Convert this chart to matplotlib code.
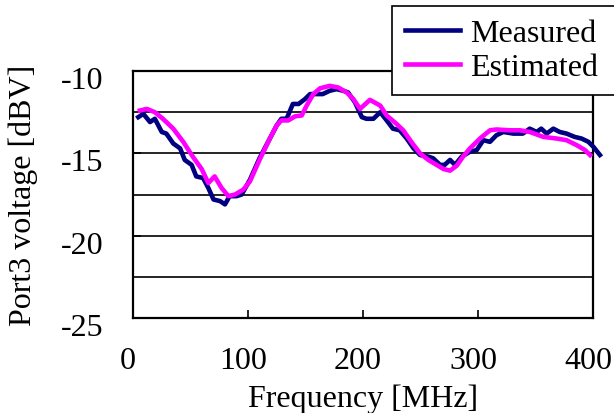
import matplotlib
matplotlib.use('Agg')
import matplotlib.pyplot as plt
from matplotlib.transforms import ScaledTranslation

plt.rcParams['font.family'] = ['Liberation Serif', 'DejaVu Serif']
plt.rcParams['axes.unicode_minus'] = False

# Measured curve (MHz, dBV)
meas_f = [4.6, 9, 14.8, 19, 25, 29, 35, 41, 45, 51, 55, 61, 65.5, 70, 75.7, 80, 84, 90, 94.5,
          101.7, 110, 119, 125, 129, 133.6, 139, 144, 149.6, 154, 160, 165, 171, 177, 183, 187,
          193, 199, 203, 209, 215, 220.6, 226, 232, 238, 244, 249.6, 256.8, 261, 267, 271,
          275.7, 280, 285.8, 293, 298.9, 304.6, 310.4, 316, 322, 330.7, 339, 345, 351, 355,
          359.7, 365.5, 371, 377, 384, 390, 396, 400.3, 406]
meas_v = [-12.8, -12.6, -13.1, -12.9, -13.7, -13.8, -14.4, -14.7, -15.4, -15.7, -16.4, -16.5,
          -17.1, -17.8, -17.9, -18.1, -17.6, -17.6, -17.5, -16.6, -15.3, -14.1, -13.3, -12.9,
          -12.9, -12.0, -12.0, -11.7, -11.4, -11.4, -11.4, -11.2, -11.1, -11.2, -11.3, -11.9,
          -12.8, -12.9, -12.9, -12.5, -13.0, -13.5, -13.6, -14.1, -14.7, -15.1, -15.2, -15.3,
          -15.7, -15.7, -15.4, -15.7, -15.2, -14.9, -14.8, -14.2, -14.3, -13.9, -13.7, -13.8,
          -13.8, -13.5, -13.7, -13.5, -13.8, -13.5, -13.7, -13.8, -14.0, -14.1, -14.3, -14.6,
          -15.1]

# Estimated curve
est_f = [6, 12, 19, 26, 35, 43.7, 52, 59.7, 65.5, 71, 77, 83, 88.7, 96, 101.7, 110, 119, 125,
         129, 135, 141, 146.7, 151, 156.8, 162.6, 171, 178.5, 185.8, 191.6, 197.4, 206, 215,
         220.6, 229, 235, 242, 249.6, 256.8, 264, 270, 275.7, 281.5, 287, 293, 301.7, 310.4,
         316, 327.8, 336.5, 345, 356.8, 368.4, 377, 385.8, 393, 397.4]
est_v = [-12.4, -12.3, -12.5, -12.9, -13.5, -14.3, -15.2, -15.95, -16.8, -16.4, -17.1, -17.6,
         -17.5, -17.2, -16.7, -15.4, -14.1, -13.3, -13.0, -13.0, -12.75, -12.7, -12.1, -11.4,
         -11.05, -10.9, -11.0, -11.3, -11.7, -12.3, -11.75, -12.1, -12.7, -13.2, -13.6, -14.3,
         -15.0, -15.4, -15.7, -15.95, -16.05, -15.75, -15.2, -14.7, -14.1, -13.6, -13.55, -13.6,
         -13.6, -13.7, -14.0, -14.1, -14.2, -14.5, -14.8, -15.1]

x_ticks = [0, 100, 200, 300, 400]
y_ticks = [-25, -20, -15, -10]
y_grid = [-22.5, -17.5, -12.5]

fig = plt.figure(figsize=(6.14, 4.14), dpi=100)
ax = fig.add_axes([0.2166, 0.2295, 0.7492, 0.5965])

ax.plot(meas_f, meas_v, color='#000080', linewidth=3.3, label='Measured', clip_on=False, zorder=3)
ax.plot(est_f, est_v, color='#FF00FF', linewidth=3.3, label='Estimated', zorder=4)

ax.set_xlim(0, 400)
ax.set_ylim(-25, -10)
ax.set_xticks(x_ticks)
ax.set_yticks(y_ticks)
ax.set_yticks(y_grid, minor=True)
ax.grid(True, which='both', axis='y', color='black', linewidth=1.2)
ax.set_axisbelow(True)

ax.tick_params(axis='both', which='major', labelsize=23, direction='in', length=6, width=1.2)
ax.tick_params(axis='x', pad=20)
ax.tick_params(axis='y', pad=21)
ax.tick_params(axis='y', which='minor', length=0)
for s in ax.spines.values():
    s.set_linewidth(1.6)

# small label offsets like the original rendering
for lab in ax.get_xticklabels():
    lab.set_transform(lab.get_transform() + ScaledTranslation(-0.05, 0, fig.dpi_scale_trans))
for lab in ax.get_yticklabels():
    lab.set_transform(lab.get_transform() + ScaledTranslation(0, -0.06, fig.dpi_scale_trans))

ax.set_xlabel('Frequency [MHz]', fontsize=23, labelpad=6)
ax.set_ylabel('Port3 voltage [dBV]', fontsize=23, labelpad=17)

leg = fig.legend(loc='upper left', bbox_to_anchor=(0.638, 0.55, 0.45, 0.433), mode='expand',
                 fontsize=23, frameon=True, fancybox=False, edgecolor='black', framealpha=1,
                 handlelength=1.75, handletextpad=0.3, labelspacing=0.15,
                 borderpad=0.4, borderaxespad=0)
leg.get_frame().set_linewidth(1.2)

fig.savefig('out.png', dpi=100)
